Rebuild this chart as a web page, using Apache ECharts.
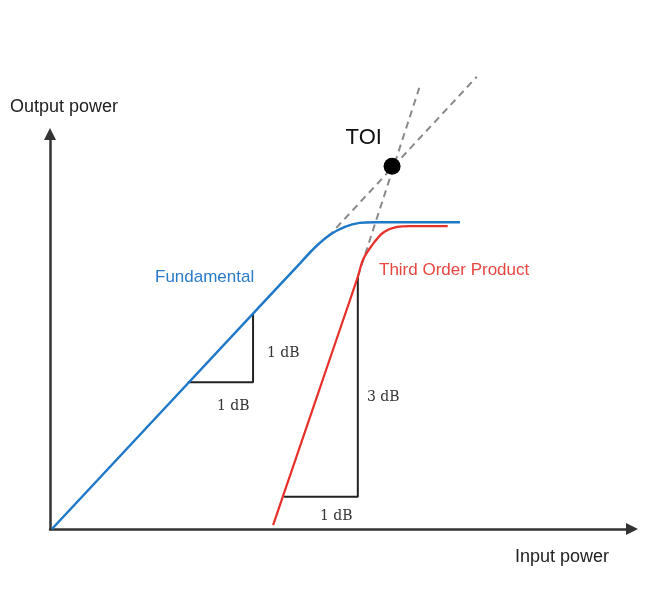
<!DOCTYPE html>
<html><head><meta charset="utf-8">
<script src="https://cdn.jsdelivr.net/npm/echarts@6/dist/echarts.min.js"></script>
<style>html,body{margin:0;padding:0;background:#fff}#c{width:659px;height:591px}</style>
</head><body><div id="c"></div>
<script>
// Values (input power vs output power, arbitrary dB units)
const fundamental = [[0.03,0],[3.5,3.65],[3.87,4.04],[4.10,4.28],[4.33,4.47],[4.56,4.59],[4.79,4.65],[5.03,4.66],[6.34,4.66]];
const thirdOrder = [[3.45,0.06],[4.5,3.08],[4.76,3.83],[4.84,4.09],[4.98,4.31],[5.15,4.50],[5.37,4.59],[5.57,4.60],[6.15,4.60]];
const fundamentalExtrap = [[4.30,4.44],[6.60,6.87]];
const thirdOrderExtrap = [[4.76,3.83],[5.71,6.70]];
const toiPoint = [[5.29,5.51]];
const fundamentalStep = [[2.13,2.23],[3.14,2.23],[3.14,3.27]];
const thirdOrderStep = [[3.62,0.49],[4.76,0.49],[4.76,3.83]];
const axisMax = {x: 9, y: 6};
const labels = {xName:'Input power', yName:'Output power', toi:'TOI', fund:'Fundamental', third:'Third Order Product',
  fundRun:'1 dB', fundRise:'1 dB', thirdRun:'1 dB', thirdRise:'3 dB'};

const chart = echarts.init(document.getElementById('c'), null, {renderer:'canvas'});
const sans = 'Liberation Sans, Arial, sans-serif';
const serif = 'DejaVu Serif, serif';
const axisCommon = {
  type:'value', min:0,
  axisLine:{show:true, symbol:['none','triangle'], symbolSize:[12,12], lineStyle:{color:'#333', width:2.5}},
  axisTick:{show:false}, axisLabel:{show:false}, splitLine:{show:false}
};
chart.setOption({
  animation:false,
  backgroundColor:'#fff',
  grid:{left:50, right:27, top:134, bottom:62},
  xAxis:Object.assign({}, axisCommon, {max:axisMax.x}),
  yAxis:Object.assign({}, axisCommon, {max:axisMax.y}),
  series:[
    {type:'line', data:fundamentalExtrap, symbol:'none', clip:false, z:1,
     lineStyle:{color:'#8a8a8a', width:2, type:[7,5]}},
    {type:'line', data:thirdOrderExtrap, symbol:'none', clip:false, z:1,
     lineStyle:{color:'#8a8a8a', width:2, type:[7,5]}},
    {type:'line', data:fundamentalStep, symbol:'none', z:2,
     lineStyle:{color:'#222', width:2}},
    {type:'line', data:thirdOrderStep, symbol:'none', z:2,
     lineStyle:{color:'#222', width:2}},
    {type:'line', data:fundamental, symbol:'none', smooth:0.3, z:3,
     lineStyle:{color:'#1f78c8', width:2.5}},
    {type:'line', data:thirdOrder, symbol:'none', smooth:0.3, z:3,
     lineStyle:{color:'#e8302a', width:2.2}},
    {type:'scatter', data:toiPoint, symbol:'circle', symbolSize:17, clip:false, z:4,
     itemStyle:{color:'#000', opacity:1},
     label:{show:true, formatter:labels.toi, position:[-38,-20], align:'left', verticalAlign:'middle',
            fontFamily:sans, fontSize:22, color:'#111'}}
  ],
  graphic:[
    {type:'text', x:10, y:107, style:{text:labels.yName, font:'18px '+sans, fill:'#222', align:'left', verticalAlign:'middle'}},
    {type:'text', x:515, y:557, style:{text:labels.xName, font:'18px '+sans, fill:'#222', align:'left', verticalAlign:'middle'}},
    {type:'text', x:155, y:277, style:{text:labels.fund, font:'17px '+sans, fill:'#2b7bcb', align:'left', verticalAlign:'middle'}},
    {type:'text', x:379, y:270, style:{text:labels.third, font:'17px '+sans, fill:'#e8473f', align:'left', verticalAlign:'middle'}},
    {type:'text', x:267, y:353, style:{text:labels.fundRise, font:'14px '+serif, fill:'#333', align:'left', verticalAlign:'middle'}},
    {type:'text', x:217, y:406, style:{text:labels.fundRun, font:'14px '+serif, fill:'#333', align:'left', verticalAlign:'middle'}},
    {type:'text', x:367, y:397, style:{text:labels.thirdRise, font:'14px '+serif, fill:'#333', align:'left', verticalAlign:'middle'}},
    {type:'text', x:320, y:516, style:{text:labels.thirdRun, font:'14px '+serif, fill:'#333', align:'left', verticalAlign:'middle'}}
  ]
});
</script>
</body></html>
